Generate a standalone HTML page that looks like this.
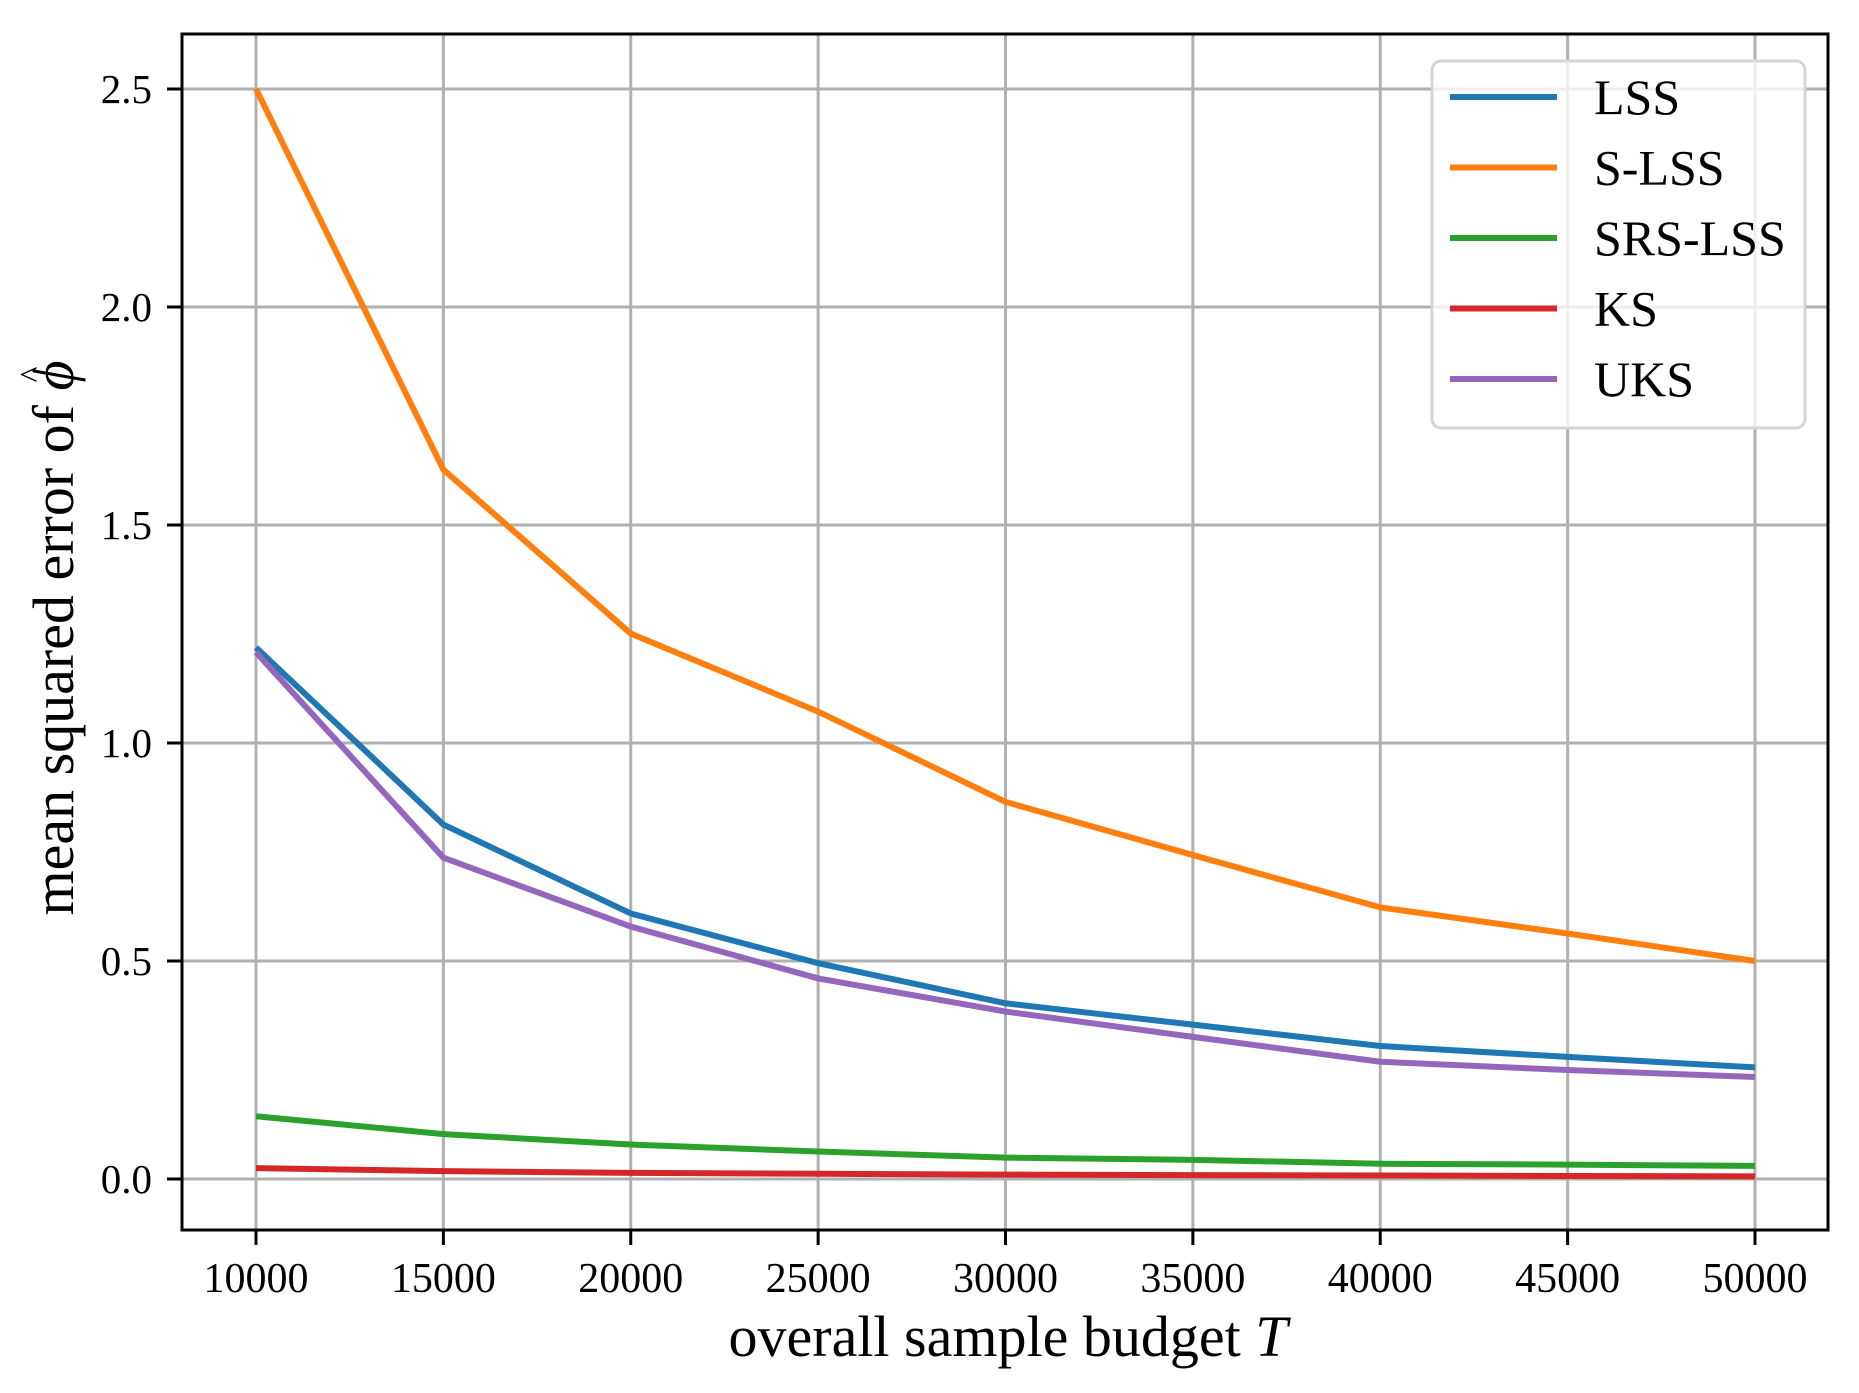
<!DOCTYPE html>
<html><head><meta charset="utf-8"><style>
html,body{margin:0;padding:0;background:#fff;}
svg{display:block;font-family:"Liberation Serif",serif;}
</style></head><body>
<svg id="chart" width="1859" height="1393" viewBox="0 0 1859 1393">
<g id="grid"></g>
<g id="series"></g>
<g id="axes"></g>
<g id="legend"></g>
<text x="1008" y="1356" font-size="58" text-anchor="middle">overall sample budget <tspan font-style="italic">T</tspan></text>
<text transform="translate(73,638) rotate(-90)" font-size="58" text-anchor="middle">mean squared error of <tspan font-style="italic">ϕ</tspan><tspan font-size="34" dx="-22" dy="-30">^</tspan></text>
</svg>
<script>
const xValues=[10000,15000,20000,25000,30000,35000,40000,45000,50000];
const lss=[1.219,0.813,0.609,0.495,0.403,0.354,0.305,0.28,0.256];
const slss=[2.5,1.627,1.251,1.072,0.865,0.743,0.623,0.563,0.50];
const srslss=[0.144,0.103,0.079,0.063,0.049,0.044,0.035,0.033,0.030];
const ks=[0.025,0.018,0.014,0.012,0.010,0.009,0.008,0.007,0.006];
const uks=[1.208,0.737,0.579,0.46,0.384,0.326,0.269,0.25,0.234];
const xTicks=[10000,15000,20000,25000,30000,35000,40000,45000,50000];
const yTicks=[0,0.5,1,1.5,2,2.5];
const seriesNames=["LSS","S-LSS","SRS-LSS","KS","UKS"];
const seriesColors=["#1f77b4","#ff7f0e","#2ca02c","#d62728","#9467bd"];
const seriesData=[lss,slss,srslss,ks,uks];

const L=182,R=1828,T=34,B=1230;
const sx=v=>256+(v-10000)*(1755-256)/40000;
const sy=v=>1179-v*(1179-89)/2.5;
const NS="http://www.w3.org/2000/svg";
function mk(tag,attrs,parent){const e=document.createElementNS(NS,tag);for(const k in attrs)e.setAttribute(k,attrs[k]);parent.appendChild(e);return e;}
const grid=document.getElementById('grid'),axes=document.getElementById('axes'),series=document.getElementById('series'),legend=document.getElementById('legend');
xTicks.forEach(t=>{
  const g=mk('line',{x1:sx(t),x2:sx(t),y1:T,y2:B,stroke:'#b0b0b0','stroke-width':3},grid);
  
  
  const tk=mk('line',{x1:sx(t),x2:sx(t),y1:B,y2:B+15,stroke:'#000','stroke-width':3},axes);
  
  
  const tx=mk('text',{x:sx(t),y:1292,'font-size':42,'text-anchor':'middle'},axes);
  tx.textContent=t;
  
  
});
yTicks.forEach(t=>{
  const g=mk('line',{x1:L,x2:R,y1:sy(t),y2:sy(t),stroke:'#b0b0b0','stroke-width':3},grid);
  
  
  const tk=mk('line',{x1:L-15,x2:L,y1:sy(t),y2:sy(t),stroke:'#000','stroke-width':3},axes);
  
  
  const tx=mk('text',{x:152,y:sy(t)+14,'font-size':41,'text-anchor':'end'},axes);
  tx.textContent=t.toFixed(1);
  
  
});
const frame=mk('rect',{x:L,y:T,width:R-L,height:B-T,fill:'none',stroke:'#000','stroke-width':3},axes);


seriesData.forEach((d,i)=>{
  const p=mk('polyline',{points:d.map((v,j)=>sx(xValues[j])+','+sy(v)).join(' '),fill:'none',stroke:seriesColors[i],'stroke-width':6,'stroke-linejoin':'round'},series);
  
  
});
const box=mk('rect',{x:1432,y:61,width:373,height:367,rx:9,fill:'rgba(255,255,255,0.8)',stroke:'#d5d5d5','stroke-width':3},legend);


seriesNames.forEach((n,i)=>{
  const y=97+i*70.5;
  const l=mk('line',{x1:1450,x2:1557,y1:y,y2:y,stroke:seriesColors[i],'stroke-width':6},legend);
  
  
  const t=mk('text',{x:1594,y:y+17,'font-size':50},legend);
  t.textContent=n;
  
  
});
</script>
</body></html>
